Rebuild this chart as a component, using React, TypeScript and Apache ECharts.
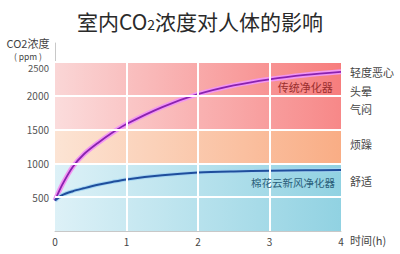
import React, { useEffect, useRef } from "react";
import * as echarts from "echarts";

const times = [0, 0.1, 0.25, 0.4, 0.6, 0.8, 1, 1.5, 2, 2.5, 3, 3.5, 4];
const traditional = [450, 680, 950, 1130, 1300, 1450, 1580, 1830, 2020, 2150, 2240, 2305, 2350];
const cotton = [450, 530, 588, 630, 682, 725, 762, 822, 862, 880, 890, 896, 900];
const xTicks = [0, 1, 2, 3, 4];
const yTicks = [500, 1000, 1500, 2000, 2500];
const bands = [
  { from: 0, to: 1000, left: "#ddf1f7", right: "#91d2e2" },
  { from: 1000, to: 1500, left: "#fce4d4", right: "#f9ad85" },
  { from: 1500, to: 2000, left: "#fbdcdc", right: "#f78888" },
  { from: 2000, to: 2500, left: "#fad6d6", right: "#f77d7d" },
];
const effects = [
  { name: "轻度恶心", value: 2333 },
  { name: "头晕", value: 2052 },
  { name: "气闷", value: 1786 },
  { name: "烦躁", value: 1268 },
  { name: "舒适", value: 720 },
];

const FONT = "'Noto Sans CJK SC', 'Noto Sans', sans-serif";

export default function App() {
  const ref = useRef<HTMLDivElement>(null);
  useEffect(() => {
    if (!ref.current) return;
    const chart = echarts.init(ref.current, undefined, { renderer: "svg" });
    const pts = (arr: number[]) => times.map((t, i) => [t, arr[i]]);
    const gridTop = 43;
    const gridBottom = 23;
    const yMax = 2776;
    const plotH = 254 - gridTop - gridBottom;
    const yPix = (v: number) => 254 - gridBottom - (v / yMax) * plotH;
    const topTick = yTicks[yTicks.length - 1];

    const lineBase = {
      type: "line",
      smooth: 0.3,
      showSymbol: false,
      silent: true,
    };

    chart.setOption({
      animation: false,
      backgroundColor: "#ffffff",
      textStyle: { fontFamily: FONT },
      title: {
        text: "{a|室内CO}{b|2}{a|浓度对人体的影响}",
        left: "center",
        top: 5,
        textStyle: {
          rich: {
            a: { fontSize: 21, color: "#2a2a2a", fontFamily: FONT, fontWeight: "normal" },
            b: { fontSize: 14, color: "#2a2a2a", fontFamily: FONT, fontWeight: "normal", verticalAlign: "bottom", padding: [6, 0, 0, 0] },
          },
        },
      },
      grid: { left: 55, right: 59, top: gridTop, bottom: gridBottom },
      xAxis: {
        type: "value",
        min: 0,
        max: 4,
        interval: 1,
        name: "时间(h)",
        nameLocation: "end",
        nameGap: 9,
        nameTextStyle: { fontSize: 11, color: "#444", fontFamily: FONT, verticalAlign: "top", padding: [4, 0, 0, 0] },
        axisLine: { lineStyle: { color: "#c8c8c8", width: 1 } },
        axisTick: { show: false },
        splitLine: { show: false },
        axisLabel: {
          fontSize: 10,
          color: "#444",
          margin: 5,
          formatter: (v: number) => (xTicks.includes(v) ? String(v) : ""),
        },
      },
      yAxis: {
        type: "value",
        min: 0,
        max: yMax,
        interval: 500,
        axisLine: { show: true, lineStyle: { color: "#c8c8c8", width: 1 } },
        axisTick: { show: false },
        splitLine: { show: false },
        axisLabel: {
          fontSize: 10,
          color: "#555",
          margin: 6,
          showMinLabel: false,
          showMaxLabel: false,
          formatter: (v: number) => (yTicks.includes(v) && v !== topTick ? String(v) : ""),
        },
      },
      graphic: [
        {
          type: "text",
          x: 28,
          y: 43,
          style: { text: "CO2浓度", fontSize: 11, lineHeight: 12, fill: "#444", fontFamily: FONT, align: "center", verticalAlign: "middle" },
        },
        {
          type: "text",
          x: 28,
          y: 55.5,
          style: { text: "( ppm )", fontSize: 8.5, lineHeight: 9, fill: "#444", fontFamily: FONT, align: "center", verticalAlign: "middle" },
        },
        {
          type: "text",
          x: 49,
          y: yPix(topTick) + 6,
          style: { text: String(topTick), fontSize: 9.5, lineHeight: 10, fill: "#555", fontFamily: FONT, align: "right", verticalAlign: "middle" },
        },
        ...effects.map((e) => ({
          type: "text",
          left: 350,
          top: yPix(e.value) - 7,
          style: { text: e.name, fontSize: 11, fill: "#444", fontFamily: FONT },
        })),
      ],
      series: [
        {
          type: "line",
          data: [],
          silent: true,
          z: 1,
          markArea: {
            silent: true,
            data: bands.map((b) => [
              {
                yAxis: b.from,
                itemStyle: {
                  color: {
                    type: "linear",
                    x: 0,
                    y: 0,
                    x2: 1,
                    y2: 0,
                    colorStops: [
                      { offset: 0, color: b.left },
                      { offset: 1, color: b.right },
                    ],
                  },
                },
              },
              { yAxis: b.to },
            ]),
          },
          markLine: {
            silent: true,
            symbol: "none",
            label: { show: false },
            lineStyle: { color: "#ffffff", width: 2, type: "solid" },
            data: [
              ...yTicks.map((v) => ({ yAxis: v })),
              ...xTicks.filter((v) => v > 0 && v < 4).map((v) => ({ xAxis: v })),
            ],
          },
        },
        {
          ...lineBase,
          data: pts(traditional),
          z: 3,
          lineStyle: { color: "#f296f2", width: 5 },
        },
        {
          ...lineBase,
          data: pts(traditional),
          z: 4,
          lineStyle: { color: "#8a22b0", width: 1.8 },
          markPoint: {
            symbol: "rect",
            symbolSize: 0,
            data: [
              {
                coord: [3.5, 2130],
                label: { show: true, formatter: "传统净化器", color: "#9a2e2e", fontSize: 11, fontFamily: FONT },
              },
            ],
          },
        },
        {
          ...lineBase,
          data: pts(cotton),
          z: 3,
          lineStyle: { color: "#a6d6f2", width: 4 },
        },
        {
          ...lineBase,
          data: pts(cotton),
          z: 4,
          lineStyle: { color: "#1f4e9c", width: 2 },
          markPoint: {
            symbol: "rect",
            symbolSize: 0,
            data: [
              {
                coord: [3.33, 710],
                label: { show: true, formatter: "棉花云新风净化器", color: "#2b5f7a", fontSize: 10.5, fontFamily: FONT },
              },
            ],
          },
        },
      ],
    });
    return () => chart.dispose();
  }, []);
  return (
    <div
      ref={ref}
      style={{ position: "fixed", left: 0, top: 0, width: 400, height: 254, background: "#fff" }}
    />
  );
}
